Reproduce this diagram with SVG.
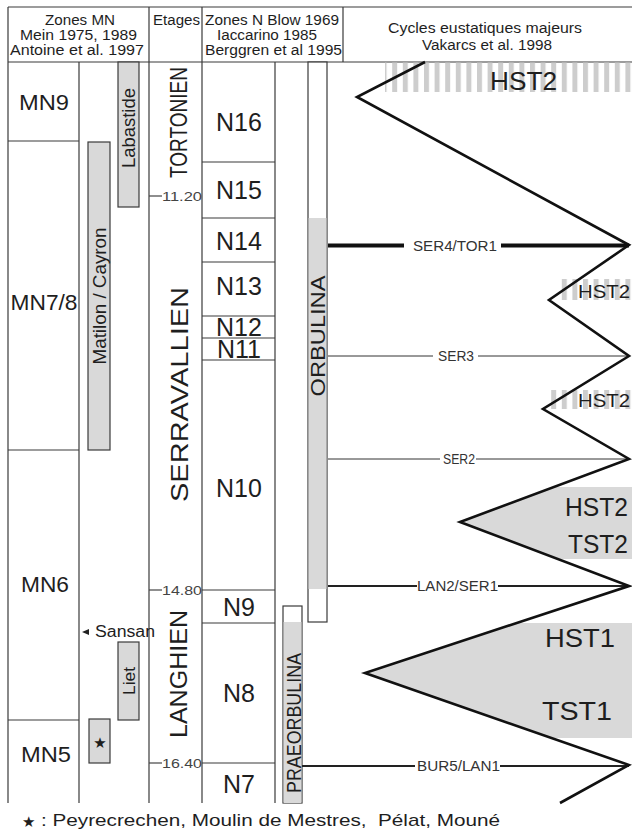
<svg xmlns="http://www.w3.org/2000/svg" width="632" height="832" viewBox="0 0 632 832">
<style>
text{font-family:"Liberation Sans",Arial,sans-serif;fill:#1e1e1e}
.grid{stroke:#3a3a3a;stroke-width:1.2;fill:none}
.box{stroke:#3a3a3a;stroke-width:1.2}
.hd{font-size:14px}
.mn{font-size:22px}
.nz{font-size:25px}
.rot{font-size:23px}
.tick{font-size:13px;fill:#444}
.tk{stroke:#444;stroke-width:1.2}
.bl{font-size:14px;fill:#333}
.sq{font-size:25px}
.gray{fill:#d9d9d9}
</style>
<defs>
<pattern id="stripes" patternUnits="userSpaceOnUse" width="10.6" height="10"><rect x="0" y="0" width="5" height="10" fill="#cdcdcd"/></pattern>
</defs>
<rect width="632" height="832" fill="#fff"/>

<g id="header">
<line class="grid" x1="8" y1="7" x2="632" y2="7"/>
<line class="grid" x1="8" y1="62" x2="632" y2="62"/>
<line class="grid" x1="343" y1="7" x2="343" y2="62"/>
<text class="hd" x="45" y="25" textLength="70" lengthAdjust="spacingAndGlyphs">Zones MN</text>
<text class="hd" x="20" y="40" textLength="117" lengthAdjust="spacingAndGlyphs">Mein 1975, 1989</text>
<text class="hd" x="10" y="55" textLength="134" lengthAdjust="spacingAndGlyphs">Antoine et al. 1997</text>
<text class="hd" x="153" y="25" textLength="47" lengthAdjust="spacingAndGlyphs">Etages</text>
<text class="hd" x="205" y="25" textLength="134" lengthAdjust="spacingAndGlyphs">Zones N Blow 1969</text>
<text class="hd" x="217" y="40" textLength="100" lengthAdjust="spacingAndGlyphs">Iaccarino 1985</text>
<text class="hd" x="205" y="55" textLength="137" lengthAdjust="spacingAndGlyphs">Berggren et al 1995</text>
<text class="hd" x="388" y="33" textLength="194" lengthAdjust="spacingAndGlyphs">Cycles eustatiques majeurs</text>
<text class="hd" x="422" y="50" textLength="130" lengthAdjust="spacingAndGlyphs">Vakarcs et al. 1998</text>
</g>

<g id="columns">
<line class="grid" x1="8" y1="7" x2="8" y2="803"/>
<line class="grid" x1="79" y1="62" x2="79" y2="803"/>
<line class="grid" x1="149" y1="7" x2="149" y2="803"/>
<line class="grid" x1="202" y1="7" x2="202" y2="803"/>
<line class="grid" x1="275" y1="62" x2="275" y2="803"/>
</g>

<g id="zones-mn">
<line class="grid" x1="8" y1="141" x2="79" y2="141"/>
<line class="grid" x1="8" y1="450" x2="79" y2="450"/>
<line class="grid" x1="8" y1="720" x2="79" y2="720"/>
<text class="mn" x="44" y="110" text-anchor="middle" textLength="50" lengthAdjust="spacingAndGlyphs">MN9</text>
<text class="mn" x="44" y="310" text-anchor="middle" textLength="67" lengthAdjust="spacingAndGlyphs">MN7/8</text>
<text class="mn" x="45" y="592" text-anchor="middle" textLength="48" lengthAdjust="spacingAndGlyphs">MN6</text>
<text class="mn" x="46" y="762" text-anchor="middle" textLength="50" lengthAdjust="spacingAndGlyphs">MN5</text>
</g>

<g id="labastide">
<rect class="box gray" x="118" y="62" width="21" height="145"/>
<text transform="translate(135,128) rotate(-90)" text-anchor="middle" font-size="18" textLength="80" lengthAdjust="spacingAndGlyphs">Labastide</text>
</g>
<g id="matilon-cayron">
<rect class="box gray" x="88" y="142" width="22" height="308"/>
<text transform="translate(106,296) rotate(-90)" text-anchor="middle" font-size="19" textLength="137" lengthAdjust="spacingAndGlyphs">Matilon / Cayron</text>
</g>
<g id="liet">
<rect class="box gray" x="118" y="642" width="21" height="78"/>
<text transform="translate(135,681) rotate(-90)" text-anchor="middle" font-size="17" textLength="28" lengthAdjust="spacingAndGlyphs">Liet</text>
</g>
<g id="star-box">
<rect class="box gray" x="89" y="719" width="21" height="44"/>
<text x="100" y="748" text-anchor="middle" style="font-family:'DejaVu Sans',sans-serif" font-size="15">★</text>
</g>
<g id="sansan">
<polygon points="82,632 89,629 89,635" fill="#222"/>
<text x="95" y="637" font-size="16" textLength="60" lengthAdjust="spacingAndGlyphs">Sansan</text>
</g>

<g id="etages">
<text class="rot" transform="translate(187,122.5) rotate(-90)" text-anchor="middle" textLength="111" lengthAdjust="spacingAndGlyphs">TORTONIEN</text>
<text class="rot" transform="translate(188,394.5) rotate(-90)" text-anchor="middle" textLength="215" lengthAdjust="spacingAndGlyphs">SERRAVALLIEN</text>
<text class="rot" transform="translate(187,674) rotate(-90)" text-anchor="middle" textLength="128" lengthAdjust="spacingAndGlyphs">LANGHIEN</text>
<line class="tk" x1="149" y1="196" x2="162" y2="196"/>
<line class="tk" x1="149" y1="590" x2="162" y2="590"/>
<line class="tk" x1="149" y1="763" x2="162" y2="763"/>
<text class="tick" x="162" y="200.5" textLength="40" lengthAdjust="spacingAndGlyphs">11.20</text>
<text class="tick" x="162" y="594.5" textLength="40" lengthAdjust="spacingAndGlyphs">14.80</text>
<text class="tick" x="162" y="767.5" textLength="40" lengthAdjust="spacingAndGlyphs">16.40</text>
</g>

<g id="zones-n">
<line class="grid" x1="202" y1="162" x2="275" y2="162"/>
<line class="grid" x1="202" y1="218" x2="275" y2="218"/>
<line class="grid" x1="202" y1="262" x2="275" y2="262"/>
<line class="grid" x1="202" y1="316" x2="275" y2="316"/>
<line class="grid" x1="202" y1="338" x2="275" y2="338"/>
<line class="grid" x1="202" y1="360" x2="275" y2="360"/>
<line class="grid" x1="202" y1="590" x2="275" y2="590"/>
<line class="grid" x1="202" y1="623" x2="275" y2="623"/>
<line class="grid" x1="202" y1="763" x2="275" y2="763"/>
<text class="nz" x="239" y="131" text-anchor="middle">N16</text>
<text class="nz" x="239" y="199" text-anchor="middle">N15</text>
<text class="nz" x="239" y="250" text-anchor="middle">N14</text>
<text class="nz" x="239" y="295" text-anchor="middle">N13</text>
<text class="nz" x="239" y="336" text-anchor="middle" font-size="24">N12</text>
<text class="nz" x="239" y="358" text-anchor="middle" font-size="24">N11</text>
<text class="nz" x="239" y="497" text-anchor="middle">N10</text>
<text class="nz" x="239" y="616" text-anchor="middle">N9</text>
<text class="nz" x="239" y="702" text-anchor="middle">N8</text>
<text class="nz" x="239" y="793" text-anchor="middle">N7</text>
</g>

<g id="orbulina">
<rect class="box" x="308" y="62" width="19" height="560" fill="#fff"/>
<rect class="gray" x="308.6" y="218" width="17.8" height="371"/>
<text transform="translate(325,336) rotate(-90)" text-anchor="middle" font-size="20" textLength="121" lengthAdjust="spacingAndGlyphs">ORBULINA</text>
</g>
<g id="praeorbulina">
<rect class="box" x="283" y="606" width="19" height="197" fill="#fff"/>
<rect class="gray" x="283.6" y="622" width="17.8" height="181"/>
<text transform="translate(301,723) rotate(-90)" text-anchor="middle" font-size="20" textLength="140" lengthAdjust="spacingAndGlyphs">PRAEORBULINA</text>
</g>

<g id="systems-tracts">
<rect x="385" y="62.6" width="247" height="29.4" fill="url(#stripes)"/>
<rect x="557" y="279" width="75" height="21" fill="url(#stripes)"/>
<rect x="548" y="390" width="84" height="19" fill="url(#stripes)"/>
<polygon class="gray" points="554,487 632,487 632,559 558,559 460,522"/>
<polygon class="gray" points="517,623 632,623 632,738 552,738 365,673"/>
<text class="sq" x="490" y="90" textLength="67" lengthAdjust="spacingAndGlyphs">HST2</text>
<text x="578" y="298" font-size="19" textLength="52" lengthAdjust="spacingAndGlyphs">HST2</text>
<text x="578" y="407" font-size="19" textLength="52" lengthAdjust="spacingAndGlyphs">HST2</text>
<text class="sq" x="565" y="516" textLength="63" lengthAdjust="spacingAndGlyphs">HST2</text>
<text class="sq" x="568" y="553" textLength="60" lengthAdjust="spacingAndGlyphs">TST2</text>
<text class="sq" x="545" y="647" textLength="70" lengthAdjust="spacingAndGlyphs">HST1</text>
<text class="sq" x="542" y="720" textLength="70" lengthAdjust="spacingAndGlyphs">TST1</text>
</g>

<g id="connectors">
<line x1="328" y1="245.5" x2="404" y2="245.5" stroke="#111" stroke-width="4"/>
<line x1="501" y1="245.5" x2="629" y2="245.5" stroke="#111" stroke-width="4"/>
<text class="bl" x="413" y="251" textLength="84" lengthAdjust="spacingAndGlyphs">SER4/TOR1</text>
<line x1="328" y1="356" x2="433" y2="356" stroke="#333" stroke-width="1"/>
<line x1="478" y1="356" x2="629" y2="356" stroke="#333" stroke-width="1"/>
<text class="bl" x="438" y="361" textLength="36" lengthAdjust="spacingAndGlyphs">SER3</text>
<line x1="328" y1="459" x2="440" y2="459" stroke="#333" stroke-width="1"/>
<line x1="476" y1="459" x2="629" y2="459" stroke="#333" stroke-width="1"/>
<text class="bl" x="443" y="463.5" font-size="13" textLength="32" lengthAdjust="spacingAndGlyphs">SER2</text>
<line x1="328" y1="586" x2="417" y2="586" stroke="#222" stroke-width="2"/>
<line x1="498" y1="586" x2="629" y2="586" stroke="#222" stroke-width="2"/>
<text class="bl" x="417" y="591" textLength="81" lengthAdjust="spacingAndGlyphs">LAN2/SER1</text>
<line x1="302" y1="766" x2="415" y2="766" stroke="#222" stroke-width="2"/>
<line x1="500" y1="766" x2="629" y2="766" stroke="#222" stroke-width="2"/>
<text class="bl" x="417" y="771" textLength="83" lengthAdjust="spacingAndGlyphs">BUR5/LAN1</text>
<polyline points="425,62 357,97 629,245 549,300 629,356 543,409 629,459 460,522 629,586 365,673 629,765 560,803" fill="none" stroke="#111" stroke-width="2.6" stroke-linejoin="miter" stroke-miterlimit="10"/>
</g>

<g id="footer">
<text x="22" y="827" style="font-family:'DejaVu Sans',sans-serif" font-size="15">★</text>
<text x="41" y="826" font-size="17" xml:space="preserve" textLength="459" lengthAdjust="spacingAndGlyphs">: Peyrecrechen, Moulin de Mestres,  Pélat, Mouné</text>
</g>
</svg>
